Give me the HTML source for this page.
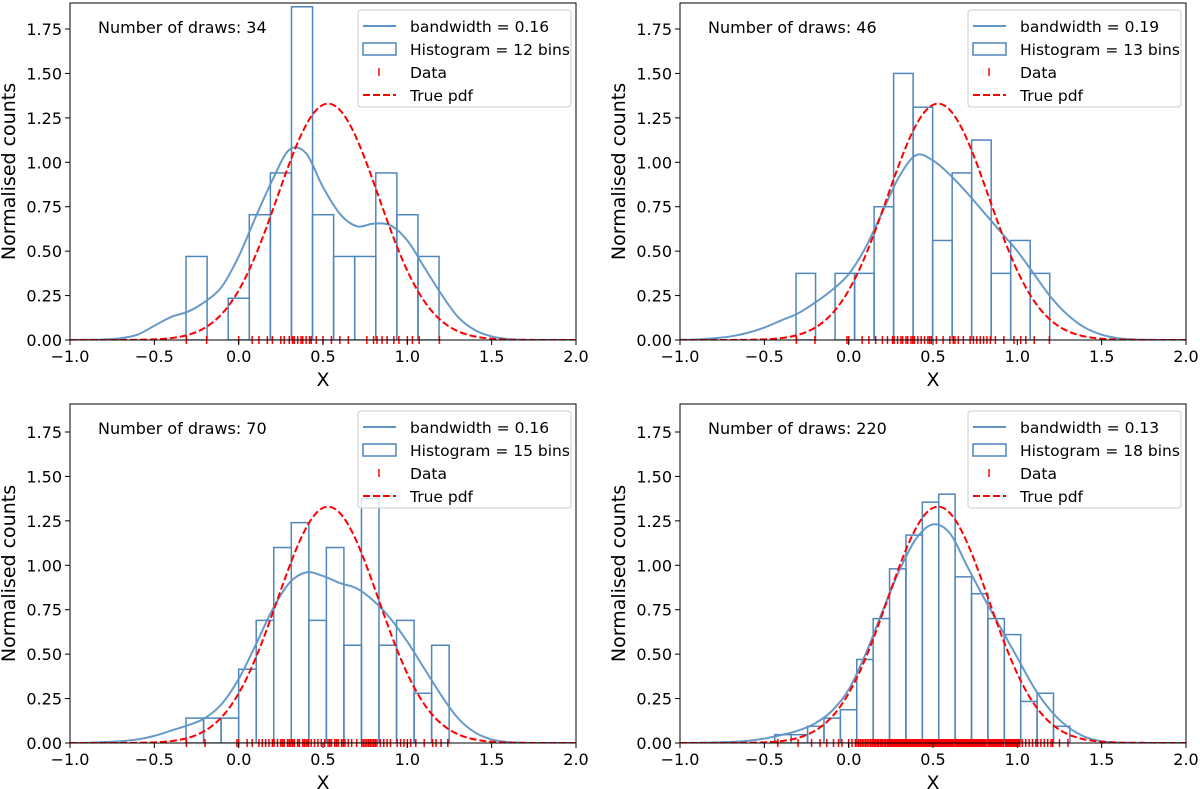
<!DOCTYPE html>
<html><head><meta charset="utf-8">
<style>
body{margin:0;background:#fff;}
svg{display:block;font-family:"DejaVu Sans","Liberation Sans",sans-serif;}
</style></head>
<body>
<svg id="fig" width="1200" height="789" viewBox="0 0 1200 789" xmlns="http://www.w3.org/2000/svg"></svg>
<script>
// ---- shared data ----
const xTicks = [-1.0, -0.5, 0.0, 0.5, 1.0, 1.5, 2.0];
const xTickLabels = ["\u22121.0", "\u22120.5", "0.0", "0.5", "1.0", "1.5", "2.0"];
const yTicks = [0, 0.25, 0.5, 0.75, 1.0, 1.25, 1.5, 1.75];
const yTickLabels = ["0.00", "0.25", "0.50", "0.75", "1.00", "1.25", "1.50", "1.75"];
const trueMean = 0.53;
const trueSigma = 0.30;
const kdeX = [-1.0,-0.9,-0.8,-0.7,-0.6,-0.5,-0.4,-0.3,-0.2,-0.1,0.0,0.1,0.2,0.3,0.4,0.5,0.6,0.7,0.8,0.9,1.0,1.1,1.2,1.3,1.4,1.5,1.6,1.7,1.8,1.9,2.0];

// panel 1
const draws1 = 34, bw1 = "0.16", bins1 = 12;
const edges1Start = -0.312, edges1Width = 0.125;
const hist1 = [0.47,0,0.235,0.705,0.94,1.875,0.705,0.47,0.47,0.94,0.705,0.47];
const kde1 = [0,0.001,0.003,0.01,0.03,0.08,0.13,0.16,0.215,0.3,0.47,0.69,0.9,1.07,1.05,0.86,0.71,0.64,0.655,0.645,0.56,0.41,0.26,0.13,0.056,0.02,0.005,0.001,0,0,0];
const rug1 = [-0.31,-0.19,0.0,0.08,0.12,0.17,0.2,0.25,0.27,0.3,0.32,0.33,0.35,0.37,0.38,0.4,0.42,0.43,0.46,0.5,0.55,0.6,0.65,0.76,0.8,0.82,0.85,0.88,0.92,0.95,1.0,1.03,1.07,1.19];

// panel 2
const draws2 = 46, bw2 = "0.19", bins2 = 13;
const edges2Start = -0.312, edges2Width = 0.1157;
const hist2 = [0.375,0,0.375,0.375,0.75,1.50,1.31,0.56,0.94,1.125,0.375,0.56,0.375];
const kde2 = [0.001,0.003,0.01,0.02,0.04,0.07,0.11,0.15,0.21,0.28,0.37,0.52,0.72,0.92,1.04,1.01,0.93,0.83,0.72,0.61,0.5,0.37,0.24,0.14,0.07,0.03,0.01,0.003,0.001,0,0];
const rug2 = [-0.31,-0.2,-0.01,0.0,0.08,0.12,0.16,0.2,0.23,0.26,0.27,0.29,0.31,0.32,0.34,0.35,0.37,0.38,0.39,0.41,0.43,0.45,0.47,0.48,0.49,0.52,0.56,0.6,0.62,0.63,0.65,0.68,0.72,0.74,0.76,0.78,0.8,0.82,0.84,0.87,0.92,0.98,1.02,1.05,1.1,1.19];

// panel 3
const draws3 = 70, bw3 = "0.16", bins3 = 15;
const edges3Start = -0.312, edges3Width = 0.104;
const hist3 = [0.14,0.14,0.14,0.415,0.69,1.10,1.24,0.69,1.10,0.55,1.375,0.55,0.69,0.28,0.55];
const kde3 = [0,0.001,0.005,0.01,0.02,0.04,0.07,0.1,0.14,0.22,0.36,0.55,0.75,0.9,0.96,0.94,0.9,0.87,0.8,0.7,0.57,0.42,0.27,0.14,0.06,0.02,0.005,0.001,0,0,0];
const rug3 = [-0.31,-0.2,-0.01,0.0,0.05,0.08,0.12,0.14,0.16,0.18,0.2,0.21,0.23,0.25,0.26,0.27,0.29,0.3,0.31,0.32,0.33,0.35,0.36,0.38,0.39,0.4,0.41,0.415,0.43,0.45,0.47,0.49,0.51,0.53,0.54,0.55,0.57,0.58,0.59,0.61,0.62,0.63,0.65,0.67,0.7,0.73,0.74,0.75,0.76,0.77,0.78,0.79,0.8,0.81,0.82,0.84,0.86,0.88,0.9,0.94,0.96,0.98,1.0,1.02,1.05,1.1,1.15,1.17,1.2,1.24];

// panel 4
const draws4 = 220, bw4 = "0.13", bins4 = 18;
const edges4Start = -0.438, edges4Width = 0.0972;
const hist4 = [0.047,0.047,0.094,0.14,0.187,0.47,0.70,0.98,1.17,1.355,1.40,0.935,0.84,0.70,0.61,0.234,0.28,0.094];
const kde4 = [0,0.001,0.003,0.006,0.012,0.025,0.045,0.07,0.11,0.18,0.3,0.5,0.74,0.97,1.15,1.23,1.18,1.0,0.82,0.65,0.48,0.31,0.18,0.09,0.035,0.01,0.003,0.001,0,0,0];
const rug4 = [-0.42,-0.3,-0.22,-0.17,-0.13,-0.09,-0.06,-0.04,0.0,0.02,0.04,
0.05,0.06,0.07,0.08,0.09,0.1,0.11,0.12,0.13,0.14,
0.15,0.155,0.16,0.17,0.175,0.18,0.19,0.195,0.2,0.21,0.215,0.22,0.23,0.235,0.24,
0.245,0.25,0.255,0.26,0.265,0.27,0.275,0.28,0.285,0.29,0.295,0.3,0.305,0.31,0.315,0.32,0.325,0.33,0.333,0.336,0.339,
0.342,0.346,0.35,0.354,0.358,0.362,0.366,0.37,0.374,0.378,0.382,0.386,0.39,0.394,0.398,0.402,0.406,0.41,0.414,0.418,0.422,0.426,0.43,0.433,0.436,
0.44,0.443,0.446,0.45,0.453,0.456,0.46,0.463,0.466,0.47,0.473,0.476,0.48,0.483,0.486,0.49,0.493,0.496,0.5,0.503,0.506,0.51,0.513,0.516,0.52,0.523,0.526,0.529,0.532,
0.536,0.539,0.542,0.545,0.548,0.551,0.554,0.557,0.56,0.563,0.566,0.569,0.572,0.575,0.578,0.581,0.584,0.587,0.59,0.593,0.596,0.599,0.602,0.605,0.608,0.611,0.614,0.617,0.62,0.625,
0.635,0.64,0.645,0.65,0.655,0.66,0.665,0.67,0.675,0.68,0.685,0.69,0.695,0.7,0.705,0.71,0.715,0.72,0.724,0.727,
0.73,0.735,0.74,0.745,0.75,0.755,0.76,0.765,0.77,0.775,0.78,0.785,0.79,0.795,0.8,0.805,0.81,0.82,
0.83,0.836,0.842,0.848,0.854,0.86,0.866,0.872,0.878,0.884,0.89,0.896,0.902,0.91,0.918,
0.93,0.937,0.944,0.951,0.958,0.965,0.972,0.979,0.986,0.993,1.0,1.007,1.014,
1.03,1.05,1.07,1.09,1.11,1.12,1.14,1.16,1.18,1.2,1.21,1.25,1.3];

const panels = [
  {x0:70, x1:576, y0:340, top:3, draws:draws1, bw:bw1, bins:bins1, es:edges1Start, ew:edges1Width, hist:hist1, kde:kde1, rug:rug1},
  {x0:680, x1:1186, y0:340, top:3, draws:draws2, bw:bw2, bins:bins2, es:edges2Start, ew:edges2Width, hist:hist2, kde:kde2, rug:rug2},
  {x0:70, x1:576, y0:743, top:404, draws:draws3, bw:bw3, bins:bins3, es:edges3Start, ew:edges3Width, hist:hist3, kde:kde3, rug:rug3},
  {x0:680, x1:1186, y0:743, top:404, draws:draws4, bw:bw4, bins:bins4, es:edges4Start, ew:edges4Width, hist:hist4, kde:kde4, rug:rug4}
];

const NS = "http://www.w3.org/2000/svg";
const svg = document.getElementById("fig");
function mk(tag, attrs, parent){
  const e = document.createElementNS(NS, tag);
  for (const k in attrs) e.setAttribute(k, attrs[k]);
  (parent||svg).appendChild(e);
  return e;
}
const PXU = (340-29)/1.75;

panels.forEach((p, idx) => {
  const g = mk("g", {});
  
  
  const sx = v => p.x0 + (v + 1) / 3 * (p.x1 - p.x0);
  const sy = v => p.y0 - v * PXU;

  const cid = "clip" + idx;
  const cp = mk("clipPath", {id: cid}, g);
  mk("rect", {x:p.x0, y:p.top, width:p.x1-p.x0, height:p.y0-p.top}, cp);
  const plot = mk("g", {"clip-path":"url(#"+cid+")"}, g);

  p.hist.forEach((h, i) => {
    if (h <= 0) return;
    const a = p.es + i * p.ew, b = a + p.ew;
    const r = mk("rect", {x:sx(a), y:sy(h), width:sx(b)-sx(a), height:sy(0)-sy(h), fill:"none", stroke:"#4f86bb", "stroke-width":1.5}, plot);
    
    
  });

  const pts = kdeX.map((x, i) => [sx(x), sy(p.kde[i])]);
  let d = "M" + pts[0][0] + "," + pts[0][1];
  for (let i = 0; i < pts.length - 1; i++) {
    const p0 = pts[Math.max(0,i-1)], p1 = pts[i], p2 = pts[i+1], p3 = pts[Math.min(pts.length-1,i+2)];
    let c1y = p1[1] + (p2[1]-p0[1])/6, c2y = p2[1] - (p3[1]-p1[1])/6;
    c1y = Math.min(c1y, p.y0); c2y = Math.min(c2y, p.y0);
    d += " C" + (p1[0]+(p2[0]-p0[0])/6) + "," + c1y + " " + (p2[0]-(p3[0]-p1[0])/6) + "," + c2y + " " + p2[0] + "," + p2[1];
  }
  const kd = mk("path", {d:d, fill:"none", stroke:"#5f95c5", "stroke-width":2, opacity:0.95}, plot);
  
  

  let td = "";
  for (let i = 0; i <= 300; i++) {
    const x = -1 + 3 * i / 300;
    const y = Math.exp(-0.5 * Math.pow((x - trueMean)/trueSigma, 2)) / (trueSigma * Math.sqrt(2*Math.PI));
    td += (i ? " L" : "M") + sx(x).toFixed(2) + "," + sy(y).toFixed(2);
  }
  const tp = mk("path", {d:td, fill:"none", stroke:"#ff0000", "stroke-width":2, "stroke-dasharray":"7,3"}, plot);
  
  

  p.rug.forEach(v => {
    const t = mk("line", {x1:sx(v), x2:sx(v), y1:p.y0-4, y2:p.y0+4, stroke:"#ff0000", "stroke-width":1.5}, g);
    
    
  });

  const fr = mk("rect", {x:p.x0, y:p.top, width:p.x1-p.x0, height:p.y0-p.top, fill:"none", stroke:"#000", "stroke-width":1}, g);
  
  

  xTicks.forEach((v, i) => {
    mk("line", {x1:sx(v), x2:sx(v), y1:p.y0, y2:p.y0+5, stroke:"#000", "stroke-width":1}, g);
    const t = mk("text", {x:sx(v), y:p.y0+22, "text-anchor":"middle", "font-size":16, fill:"#000"}, g);
    t.textContent = xTickLabels[i];
    
    
  });
  yTicks.forEach((v, i) => {
    mk("line", {x1:p.x0-5, x2:p.x0, y1:sy(v), y2:sy(v), stroke:"#000", "stroke-width":1}, g);
    const t = mk("text", {x:p.x0-8, y:sy(v)+6, "text-anchor":"end", "font-size":16, fill:"#000"}, g);
    t.textContent = yTickLabels[i];
    
    
  });
  const xt = mk("text", {x:(p.x0+p.x1)/2, y:p.y0+46, "text-anchor":"middle", "font-size":19}, g);
  xt.textContent = "X";
  
  
  const yc = (p.top + p.y0)/2;
  const yx = p.x0 - 55;
  const yt = mk("text", {x:yx, y:yc, "text-anchor":"middle", "font-size":19, transform:"rotate(-90 "+yx+" "+yc+")"}, g);
  yt.textContent = "Normalised counts";
  
  

  const an = mk("text", {x:p.x0+28, y:p.top+30, "font-size":16}, g);
  an.textContent = "Number of draws: " + p.draws;
  
  

  const lx = p.x0 + 288, ly = p.top + 7;
  const lg = mk("g", {}, g);
  
  
  mk("rect", {x:lx, y:ly, width:213, height:97, rx:3, fill:"#fff", "fill-opacity":0.8, stroke:"#ccc", "stroke-width":1}, lg);
  const rowY = [ly+16, ly+39, ly+62, ly+85];
  const labels = ["bandwidth = " + p.bw, "Histogram = " + p.bins + " bins", "Data", "True pdf"];
  mk("line", {x1:lx+5, x2:lx+38, y1:rowY[0], y2:rowY[0], stroke:"#5f95c5", "stroke-width":2}, lg);
  mk("rect", {x:lx+5, y:rowY[1]-6, width:33, height:12, fill:"none", stroke:"#4f86bb", "stroke-width":1.5}, lg);
  mk("line", {x1:lx+21, x2:lx+21, y1:rowY[2]-4, y2:rowY[2]+4, stroke:"#ff0000", "stroke-width":1.5}, lg);
  mk("line", {x1:lx+5, x2:lx+38, y1:rowY[3], y2:rowY[3], stroke:"#ff0000", "stroke-width":2, "stroke-dasharray":"7,3"}, lg);
  labels.forEach((s, i) => {
    const t = mk("text", {x:lx+52, y:rowY[i]+6, "font-size":15.5}, lg);
    t.textContent = s;
    
    
  });
});
</script>
</body></html>
